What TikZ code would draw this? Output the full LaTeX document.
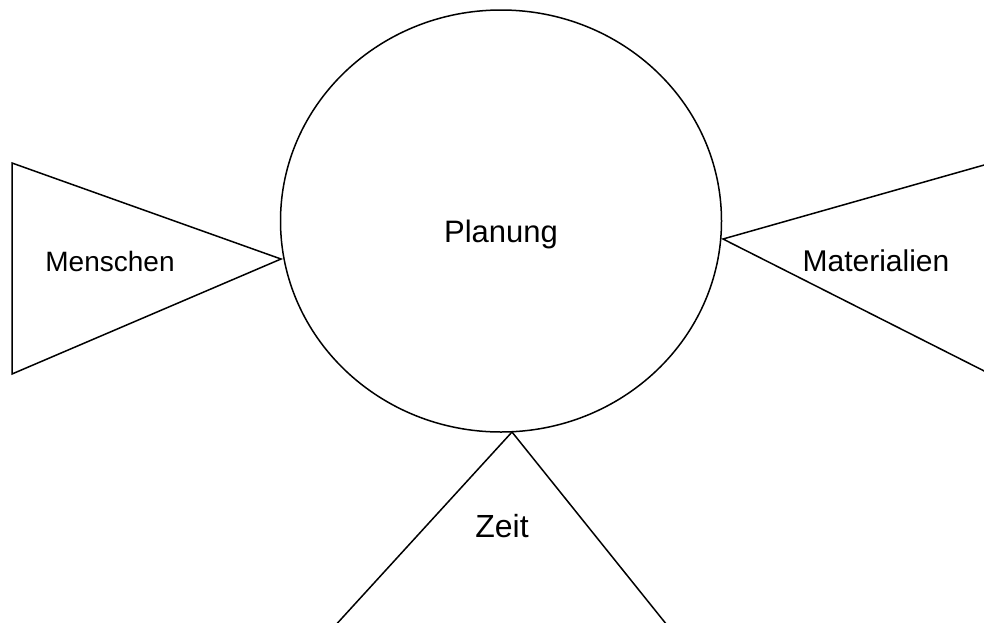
\documentclass[tikz,border=0pt]{standalone}
\usepackage{fontspec}
\setmainfont{Liberation Sans}
\usetikzlibrary{shapes.geometric}
\begin{document}
\begin{tikzpicture}[x=1pt,y=-1pt,
  shapeline/.style={draw=black,line width=1.5pt,line join=miter},
  lbl/.style={inner sep=0pt,anchor=base,font=\fontsize{28}{32}\selectfont},
  biglbl/.style={inner sep=0pt,anchor=base,font=\fontsize{31}{36}\selectfont}]
\useasboundingbox (0,0) rectangle (984,622);
\clip (0,0) rectangle (984,622);
% central ellipse
\node[ellipse,shapeline,minimum width=441pt,minimum height=422pt,inner sep=0pt] (plan) at (501,221) {};
\node[biglbl] (plantext) at (501,242) {Planung};
% left triangle
\coordinate (lt1) at (12,163);
\coordinate (lt2) at (12,374);
\coordinate (lta) at (281,259);
\draw[shapeline] (lt1) -- (lta) -- (lt2) -- cycle;
\node[lbl] (menschen) at (110,271) {Menschen};
% right triangle
\coordinate (rta) at (723,239);
\coordinate (rt1) at (1000,160.5);
\coordinate (rt2) at (1000,379);
\draw[shapeline] (rt1) -- (rta) -- (rt2) -- cycle;
\node[lbl,font=\fontsize{30}{34}\selectfont] (material) at (876,271) {Materialien};
% bottom triangle
\coordinate (bta) at (512,432);
\coordinate (bt1) at (322,640);
\coordinate (bt2) at (679,640);
\draw[shapeline] (bt1) -- (bta) -- (bt2) -- cycle;
\node[lbl,font=\fontsize{32}{36}\selectfont] (zeit) at (502,537) {Zeit};
\end{tikzpicture}
\end{document}
